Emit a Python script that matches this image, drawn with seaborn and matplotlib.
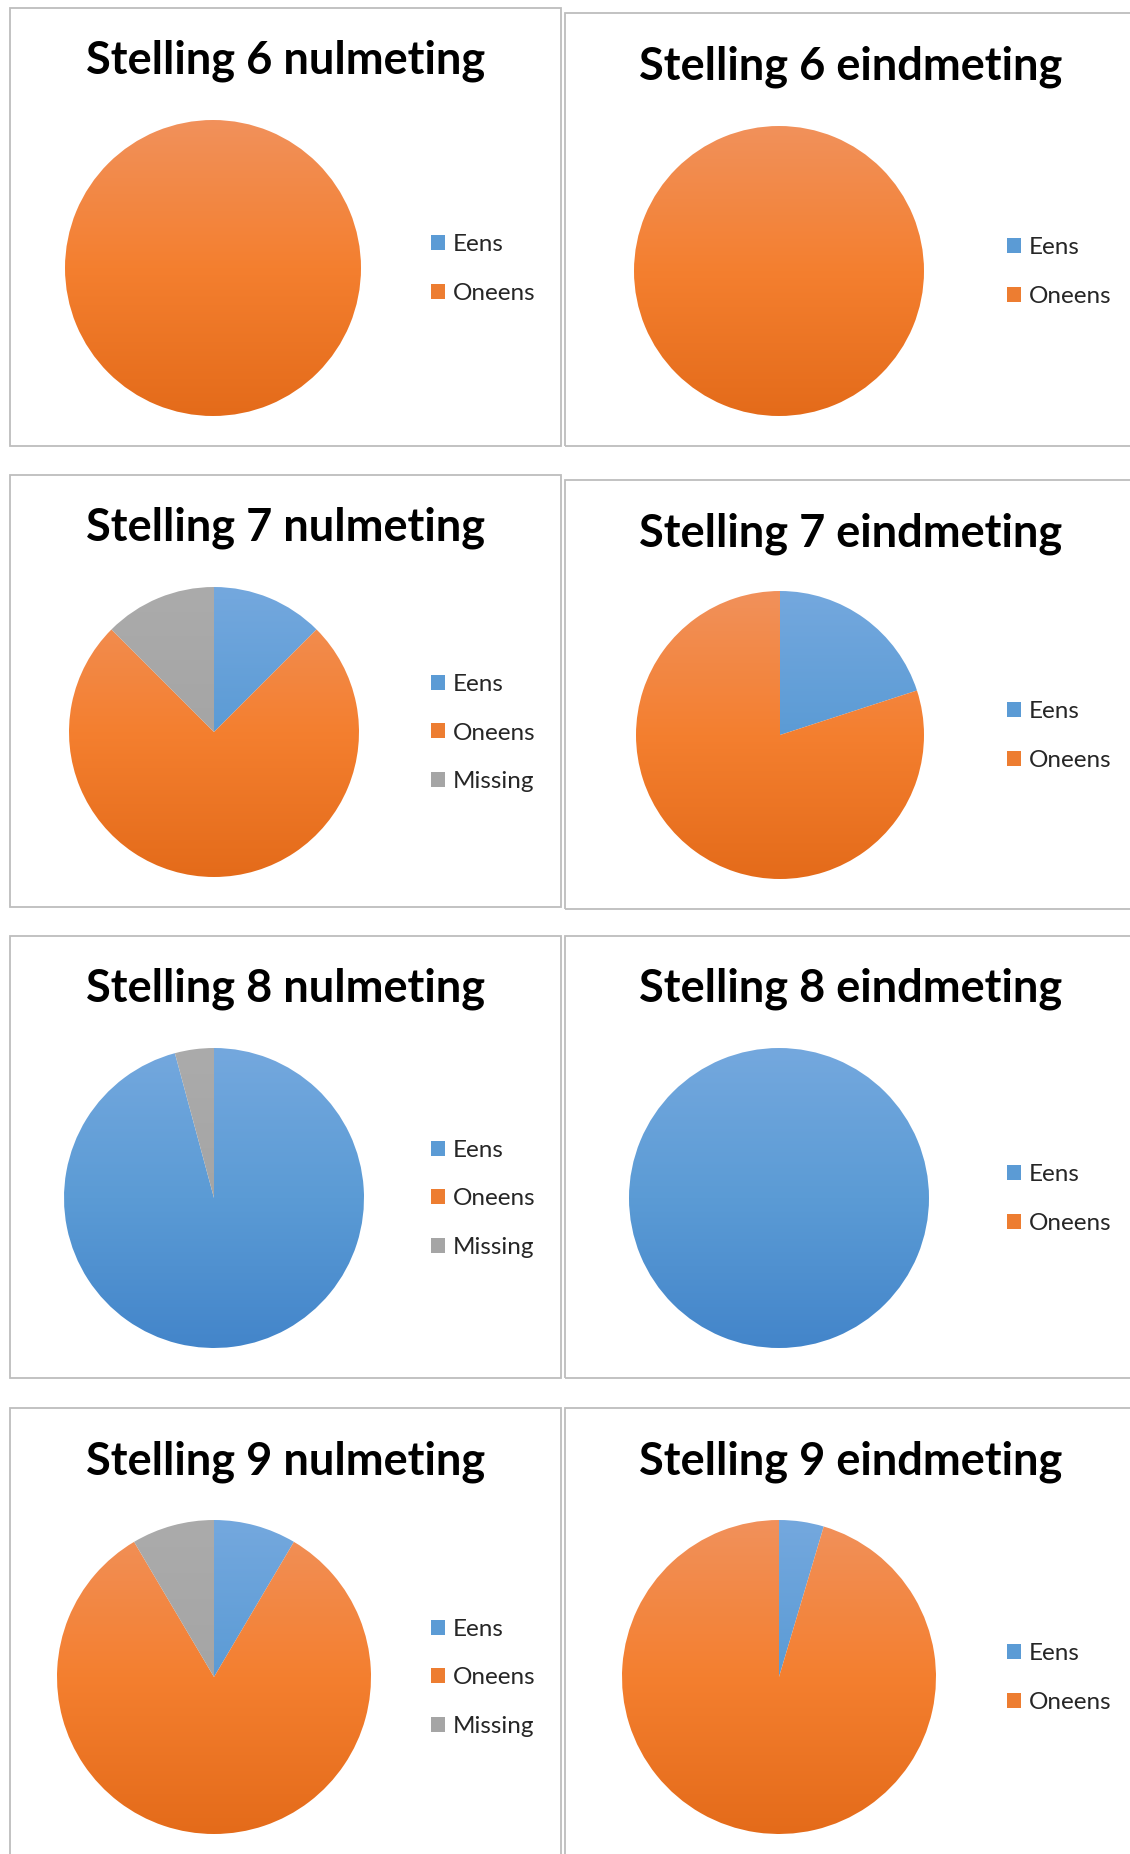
import numpy as np
import matplotlib
matplotlib.use("Agg")
import matplotlib.pyplot as plt
from matplotlib.colors import LinearSegmentedColormap
from matplotlib.patches import Patch, Rectangle
import seaborn as sns

# ── Data (percentages) ───────────────────────────────────────────────────────
titles = [
    "Stelling 6 nulmeting", "Stelling 6 eindmeting",
    "Stelling 7 nulmeting", "Stelling 7 eindmeting",
    "Stelling 8 nulmeting", "Stelling 8 eindmeting",
    "Stelling 9 nulmeting", "Stelling 9 eindmeting",
]
categories = ["Eens", "Oneens", "Missing"]

s6_nul = [0, 100]
s6_eind = [0, 100]
s7_nul = [12.5, 75, 12.5]
s7_eind = [20, 80]
s8_nul = [95.8, 0, 4.2]
s8_eind = [100, 0]
s9_nul = [8.5, 83, 8.5]
s9_eind = [4.6, 95.4]
values = [s6_nul, s6_eind, s7_nul, s7_eind, s8_nul, s8_eind, s9_nul, s9_eind]

# ── Style ─────────────────────────────────────────────────────────────────────
sns.set_theme(style="white")
plt.rcParams["font.family"] = ["Lato", "DejaVu Sans"]

palette = sns.color_palette(["#5B9BD5", "#ED7D31", "#A5A5A5"])
GRADIENTS = {
    "Eens":    ["#74A8DE", "#5B9BD5", "#4385CA"],
    "Oneens":  ["#F1915B", "#F47F2F", "#E46B1A"],
    "Missing": ["#ABABAB", "#A5A5A5", "#A0A0A0"],
}

W, H = 1130, 1854
fig = plt.figure(figsize=(W / 100, H / 100), dpi=100)

# panel layout in pixels (from top-left)
col_x = [(9.5, 561), (565, 1140)]
row_y = [[(8, 446), (13, 446)], [(475, 907), (480, 909)],
         [(936, 1378), (936, 1378)], [(1408, 1870), (1408, 1870)]]
title_y = [[61, 67], [528, 534], [989, 989], [1462, 1462]]
pie_c = [[(213, 268, 148), (779, 271, 145)], [(214, 732, 145), (780, 735, 144)],
         [(214, 1198, 150), (779, 1198, 150)], [(214, 1677, 157), (779, 1677, 157)]]
legend_x = [431, 1007]


def fx(px):
    return px / W


def fy(py):
    return 1 - py / H


for i, (title, vals) in enumerate(zip(titles, values)):
    r, c = divmod(i, 2)
    x0, x1 = col_x[c]
    y0, y1 = row_y[r][c]
    fig.patches.append(Rectangle((fx(x0), fy(y1)), fx(x1 - x0), (y1 - y0) / H,
                                 transform=fig.transFigure, fill=False,
                                 edgecolor="#BDBDBD", lw=1.3))
    fig.text(fx((x0 + min(x1, 1137)) / 2), fy(title_y[r][c]), title,
             ha="center", va="center", fontsize=32.5, fontweight="bold", color="black")

    cx, cy, rad = pie_c[r][c]
    ax = fig.add_axes([fx(cx - rad), fy(cy + rad), fx(2 * rad), 2 * rad / H])
    labels = categories[:len(vals)]
    wedges, _ = ax.pie(vals, startangle=90, counterclock=False, radius=1,
                       colors=palette[:len(vals)], wedgeprops=dict(linewidth=0))
    # vertical gradient fill, like the office-style pie
    for w, lab in zip(wedges, labels):
        cmap = LinearSegmentedColormap.from_list(lab, GRADIENTS[lab])
        grad = np.linspace(0, 1, 256).reshape(-1, 1)
        im = ax.imshow(grad, cmap=cmap, extent=[-1, 1, -1, 1], origin="upper",
                       aspect="auto", zorder=w.get_zorder())
        im.set_clip_path(w)
        w.set_facecolor("none")
    ax.set_xlim(-1, 1)
    ax.set_ylim(-1, 1)
    ax.axis("off")

    handles = [Patch(facecolor=palette[k], edgecolor="none") for k in range(len(vals))]
    fig.legend(handles, labels, loc="center left",
               bbox_to_anchor=(fx(legend_x[c]), fy(cy + 1)), frameon=False,
               fontsize=17.5, handlelength=0.58, handleheight=0.58,
               handletextpad=0.33, labelspacing=1.13, borderpad=0, borderaxespad=0)

fig.savefig("out.png", dpi=100)
